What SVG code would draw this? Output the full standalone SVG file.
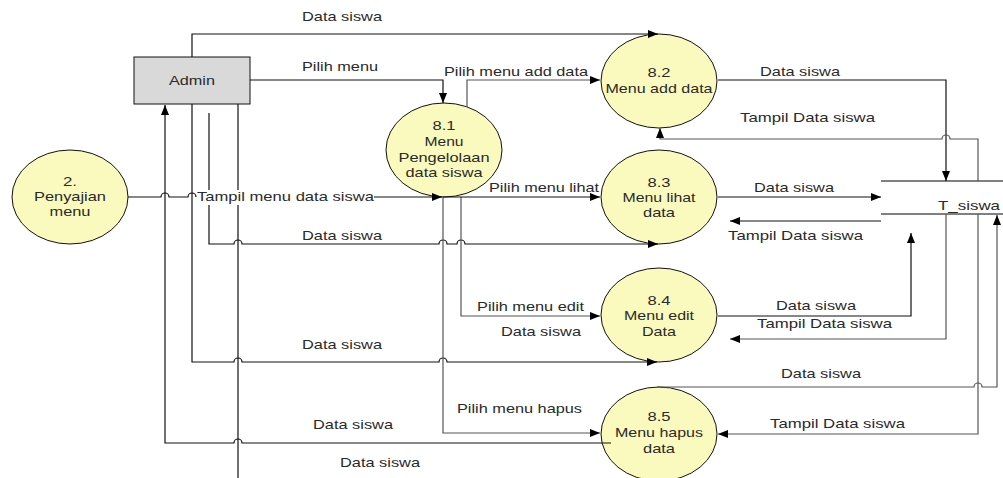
<svg xmlns="http://www.w3.org/2000/svg" width="1003" height="478" viewBox="0 0 1003 478">
  <style>
    .t { font-family: "Liberation Sans", Arial, sans-serif; font-size: 13px; fill: #2a2a2a; }
    .c { text-anchor: middle; }
    .proc { fill: #fafabe; stroke: #111; stroke-width: 1; }
    .ent { fill: #d9d9d9; stroke: #111; stroke-width: 1; }
    .flow { fill: none; stroke: #111; stroke-width: 1.2; }
    .flow.g { stroke: #555; }
    .arr { marker-end: url(#ah); }
    .store { stroke: #808080; stroke-width: 2; }
  </style>
  <defs>
    <marker id="ah" markerUnits="userSpaceOnUse" markerWidth="11" markerHeight="9" refX="10" refY="4" orient="auto">
      <path d="M0,0 L10,4 L0,8 z" fill="#000"/>
    </marker>
  </defs>
  <rect width="1003" height="478" fill="#fff"/>

  <!-- flow labels -->
  <g id="labels" class="t">
    <text x="302" y="21" textLength="80" lengthAdjust="spacingAndGlyphs">Data siswa</text>
    <text x="302" y="71" textLength="76" lengthAdjust="spacingAndGlyphs">Pilih menu</text>
    <text x="444" y="76" textLength="144" lengthAdjust="spacingAndGlyphs">Pilih menu add data</text>
    <text x="760" y="76" textLength="80" lengthAdjust="spacingAndGlyphs">Data siswa</text>
    <text x="740" y="122" textLength="135" lengthAdjust="spacingAndGlyphs">Tampil Data siswa</text>
    <text x="489" y="192" textLength="110" lengthAdjust="spacingAndGlyphs">Pilih menu lihat</text>
    <text x="754" y="192" textLength="80" lengthAdjust="spacingAndGlyphs">Data siswa</text>
    <text x="728" y="240" textLength="135" lengthAdjust="spacingAndGlyphs">Tampil Data siswa</text>
    <text x="302" y="240" textLength="80" lengthAdjust="spacingAndGlyphs">Data siswa</text>
    <text x="477" y="311" textLength="107" lengthAdjust="spacingAndGlyphs">Pilih menu edit</text>
    <text x="501" y="336" textLength="80" lengthAdjust="spacingAndGlyphs">Data siswa</text>
    <text x="776" y="310" textLength="80" lengthAdjust="spacingAndGlyphs">Data siswa</text>
    <text x="757" y="328" textLength="135" lengthAdjust="spacingAndGlyphs">Tampil Data siswa</text>
    <text x="302" y="349" textLength="80" lengthAdjust="spacingAndGlyphs">Data siswa</text>
    <text x="781" y="378" textLength="80" lengthAdjust="spacingAndGlyphs">Data siswa</text>
    <text x="457" y="413" textLength="125" lengthAdjust="spacingAndGlyphs">Pilih menu hapus</text>
    <text x="770" y="428" textLength="135" lengthAdjust="spacingAndGlyphs">Tampil Data siswa</text>
    <text x="313" y="429" textLength="80" lengthAdjust="spacingAndGlyphs">Data siswa</text>
    <text x="340" y="467" textLength="80" lengthAdjust="spacingAndGlyphs">Data siswa</text>
  </g>

  <!-- external entity -->
  <g id="admin">
    <rect class="ent" x="134" y="57" width="116" height="47"/>
    <text class="t c" x="192" y="85" textLength="46" lengthAdjust="spacingAndGlyphs">Admin</text>
  </g>

  <!-- processes -->
  <g id="p2">
    <ellipse class="proc" cx="70" cy="197" rx="58" ry="47"/>
    <text class="t c" x="70" y="186" textLength="14" lengthAdjust="spacingAndGlyphs">2.</text>
    <text class="t c" x="70" y="201" textLength="72" lengthAdjust="spacingAndGlyphs">Penyajian</text>
    <text class="t c" x="70" y="216" textLength="41" lengthAdjust="spacingAndGlyphs">menu</text>
  </g>
  <g id="p81">
    <ellipse class="proc" cx="444" cy="150" rx="58" ry="47"/>
    <text class="t c" x="444" y="130" textLength="23" lengthAdjust="spacingAndGlyphs">8.1</text>
    <text class="t c" x="444" y="146" textLength="39" lengthAdjust="spacingAndGlyphs">Menu</text>
    <text class="t c" x="444" y="162" textLength="91" lengthAdjust="spacingAndGlyphs">Pengelolaan</text>
    <text class="t c" x="444" y="177" textLength="77" lengthAdjust="spacingAndGlyphs">data siswa</text>
  </g>
  <g id="p82">
    <ellipse class="proc" cx="659" cy="81" rx="58" ry="47"/>
    <text class="t c" x="659" y="77" textLength="23" lengthAdjust="spacingAndGlyphs">8.2</text>
    <text class="t c" x="659" y="93" textLength="107" lengthAdjust="spacingAndGlyphs">Menu add data</text>
  </g>
  <g id="p83">
    <ellipse class="proc" cx="659" cy="197" rx="58" ry="47"/>
    <text class="t c" x="659" y="187" textLength="23" lengthAdjust="spacingAndGlyphs">8.3</text>
    <text class="t c" x="659" y="202" textLength="73" lengthAdjust="spacingAndGlyphs">Menu lihat</text>
    <text class="t c" x="659" y="217" textLength="32" lengthAdjust="spacingAndGlyphs">data</text>
  </g>
  <g id="p84">
    <ellipse class="proc" cx="659" cy="315" rx="58" ry="47"/>
    <text class="t c" x="659" y="305" textLength="23" lengthAdjust="spacingAndGlyphs">8.4</text>
    <text class="t c" x="659" y="320" textLength="70" lengthAdjust="spacingAndGlyphs">Menu edit</text>
    <text class="t c" x="659" y="336" textLength="34" lengthAdjust="spacingAndGlyphs">Data</text>
  </g>
  <g id="p85">
    <ellipse class="proc" cx="659" cy="434" rx="58" ry="47"/>
    <text class="t c" x="659" y="421" textLength="23" lengthAdjust="spacingAndGlyphs">8.5</text>
    <text class="t c" x="659" y="437" textLength="88" lengthAdjust="spacingAndGlyphs">Menu hapus</text>
    <text class="t c" x="659" y="453" textLength="32" lengthAdjust="spacingAndGlyphs">data</text>
  </g>

  <!-- data store -->
  <g id="t_siswa">
    <line class="store" x1="881" y1="181" x2="1003" y2="181"/>
    <line class="store" x1="881" y1="214" x2="1003" y2="214"/>
    <text class="t" x="938" y="210" textLength="62" lengthAdjust="spacingAndGlyphs">T_siswa</text>
  </g>

  <!-- data flows (small arcs are line hops over crossing flows) -->
  <g id="connectors">
    <path class="flow arr" d="M192,57 V34 H658"/>
    <path class="flow arr" d="M250,80 H443 V103"/>
    <path class="flow g arr" d="M467,107 V80 H600"/>
    <path class="flow arr" d="M718,80 H946 V181"/>
    <path class="flow g arr" d="M978,181 V139 H950 a4,4 0 0 0 -8,0 H660 V128"/>
    <path class="flow g arr" d="M978,214 V434 H718"/>
    <path class="flow g arr" d="M657,387 H974 a4,4 0 0 1 8,0 H997 V215"/>
    <path class="flow arr" d="M718,197 H881"/>
    <path class="flow arr" d="M881,221 H730"/>
    <path class="flow arr" d="M718,316 H911 V233"/>
    <path class="flow g arr" d="M946,214 V339 H730"/>
    <path class="flow" d="M128,197 H161 a4,4 0 0 1 8,0 H188 a4,4 0 0 1 8,0"/>
    <path class="flow arr" d="M374,197 H442"/>
    <path class="flow" d="M209,113 V190"/>
    <path class="flow arr" d="M209,205 V244 H234 a4,4 0 0 1 8,0 H439 a4,4 0 0 1 8,0 H457 a4,4 0 0 1 8,0 H658"/>
    <path class="flow arr" d="M192,104 V362 H234 a4,4 0 0 1 8,0 H439 a4,4 0 0 1 8,0 H657"/>
    <path class="flow arr" d="M611,443 H242 a4,4 0 0 0 -8,0 H165 V105"/>
    <path class="flow" d="M238,104 V190"/>
    <path class="flow arr" d="M238,205 V492 H657 V479"/>
    <path class="flow g arr" d="M443,197 V433 H600"/>
    <path class="flow g arr" d="M461,197 V316 H600"/>
    <path class="flow arr" d="M443,197 H600"/>
    <text class="t" x="197" y="201" textLength="177" lengthAdjust="spacingAndGlyphs">Tampil menu data siswa</text>
  </g>
</svg>
